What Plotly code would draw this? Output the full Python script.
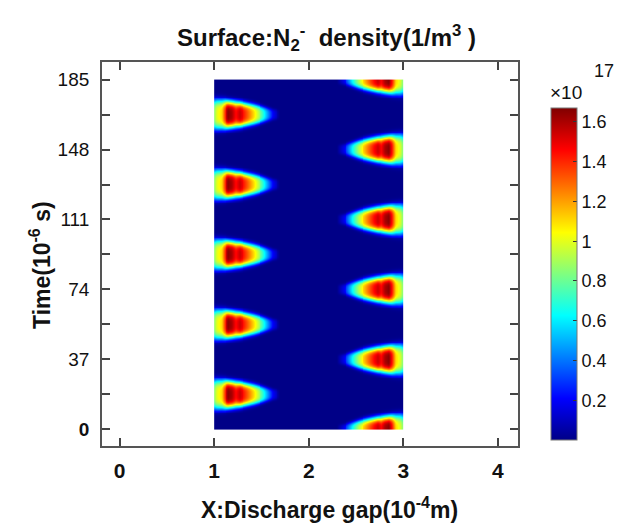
import numpy as np
import plotly.graph_objects as go

# ---- data ----
# pulse times (10^-6 s) of the negative-ion layers at each electrode
pulse_times_left = [18.5, 55.5, 92.5, 129.5, 166.5]
pulse_times_right = [0, 37, 74, 111, 148, 185]
# distance from electrode (10^-4 m) and peak density along the pulse centre (10^17 m^-3)
profile_dist = [0.00, 0.03, 0.08, 0.12, 0.15, 0.19, 0.23, 0.27, 0.31, 0.36, 0.42, 0.47, 0.52, 0.57, 0.62, 0.70]
profile_dens = [0.85, 1.00, 1.10, 1.45, 1.66, 1.60, 1.45, 1.55, 1.45, 1.30, 1.10, 0.92, 0.70, 0.45, 0.20, 0.00]
# half-duration of the pulse (10^-6 s) along the same distances
profile_halfw = [8.0, 8.0, 7.8, 7.5, 7.2, 7.0, 6.8, 6.5, 6.2, 5.8, 5.3, 4.8, 4.2, 3.6, 3.0, 2.5]
gap_start, gap_end = 1.0, 3.0
t_end = 185.0

x_ticks = [0, 1, 2, 3, 4]
y_ticks = [0, 37, 74, 111, 148, 185]
y_ticktext = ["<b>0</b>", "37", "74", "111", "148", "185"]
y_minor = [18.5, 55.5, 92.5, 129.5, 166.5]
cb_ticks = [0.2, 0.4, 0.6, 0.8, 1.0, 1.2, 1.4, 1.6]
cb_text = ["0.2", "0.4", "0.6", "0.8", "1", "1.2", "1.4", "1.6"]

# ---- build the surface from the read parameters ----
x_edges = np.linspace(gap_start, gap_end, 201)
t_edges = np.linspace(0, t_end, 371)
xc = 0.5 * (x_edges[:-1] + x_edges[1:])
tc = 0.5 * (t_edges[:-1] + t_edges[1:])
X, T = np.meshgrid(xc, tc)


def layer(dist, times):
    amp = np.interp(dist, profile_dist, profile_dens, right=0.0)
    hw = np.interp(dist, profile_dist, profile_halfw)
    z = np.zeros_like(dist)
    for t0 in times:
        u = (T - t0) / hw
        z = z + amp * np.exp(-u ** 4)
    return z


Z = layer(X - gap_start, pulse_times_left) + layer(gap_end - X, pulse_times_right)

jet = [[0.0, "rgb(0,0,135)"], [0.125, "rgb(0,0,255)"], [0.375, "rgb(0,255,255)"],
       [0.625, "rgb(255,255,0)"], [0.875, "rgb(255,0,0)"], [1.0, "rgb(128,0,0)"]]

W, H = 630, 530
L, R, TOP, B = 102, 112, 62, 84
PW, PH = W - L - R, H - TOP - B


def px(xp):
    return (xp - L) / PW


def py(yp):
    return (H - B - yp) / PH


font = "Arial, Liberation Sans"

fig = go.Figure()
fig.add_trace(go.Heatmap(
    x=x_edges, y=t_edges, z=Z, colorscale=jet, zmin=0, zmax=1.67,
    colorbar=dict(
        x=px(551), xanchor="left", xpad=0, y=py(108), yanchor="top", ypad=0,
        thickness=26, lenmode="pixels", len=332,
        outlinewidth=1, outlinecolor="#777",
        tickvals=cb_ticks, ticktext=cb_text, ticks="inside", ticklen=4, tickcolor="#333",
        tickfont=dict(family=font, size=18, color="#111"),
    ),
    hoverinfo="skip",
))

fig.update_layout(
    width=W, height=H, margin=dict(l=L, r=R, t=TOP, b=B),
    paper_bgcolor="white", plot_bgcolor="white",
    xaxis=dict(range=[-0.186, 4.212], tickvals=x_ticks,
               ticktext=["<b>%d</b>" % v for v in x_ticks],
               ticks="inside", ticklen=8, tickcolor="#444", tickwidth=1.5,
               showline=True, linecolor="#555", linewidth=1.8, mirror="ticks",
               showgrid=False, zeroline=False, ticklabelstandoff=5,
               tickfont=dict(family=font, size=21, color="#111")),
    yaxis=dict(range=[-8.8, 194.3], tickvals=y_ticks, ticktext=y_ticktext,
               ticks="inside", ticklen=8, tickcolor="#444", tickwidth=1.5,
               minor=dict(tickvals=y_minor, ticks="inside", ticklen=8,
                          tickcolor="#444", tickwidth=1.5, showgrid=False),
               showline=True, linecolor="#555", linewidth=1.8, mirror="ticks",
               showgrid=False, zeroline=False, ticklabelstandoff=7,
               tickfont=dict(family=font, size=19, color="#111")),
    annotations=[
        dict(text="<b>Surface:N<sub>2</sub><sup>-</sup>  density(1/m<sup>3</sup> )</b>",
             x=px(326), y=py(38), xref="paper", yref="paper", showarrow=False,
             xanchor="center", yanchor="middle", font=dict(family=font, size=24, color="#111")),
        dict(text="<b>X:Discharge gap(10<sup>-4</sup>m)</b>",
             x=px(329), y=py(508), xref="paper", yref="paper", showarrow=False,
             xanchor="center", yanchor="middle", font=dict(family=font, size=23, color="#111")),
        dict(text="<b>Time(10<sup>-6</sup> s)</b>", textangle=-90,
             x=px(40), y=py(265), xref="paper", yref="paper", showarrow=False,
             xanchor="center", yanchor="middle", font=dict(family=font, size=23, color="#111")),
        dict(text="×10", x=px(566), y=py(92), xref="paper", yref="paper", showarrow=False,
             xanchor="center", yanchor="middle", font=dict(family=font, size=19, color="#111")),
        dict(text="17", x=px(604), y=py(71), xref="paper", yref="paper", showarrow=False,
             xanchor="center", yanchor="middle", font=dict(family=font, size=18, color="#111")),
    ],
)

fig.write_html("out.html")
